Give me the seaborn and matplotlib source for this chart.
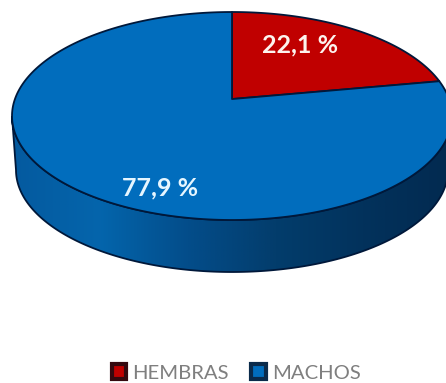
import numpy as np
import matplotlib
matplotlib.use("Agg")
import matplotlib.pyplot as plt
from matplotlib.colors import ListedColormap
from matplotlib.patches import Patch, Polygon
import seaborn as sns

# Sex ratio of the sample, in percent
categories = ["HEMBRAS", "MACHOS"]
shares = [22.1, 77.9]
slice_colors = ["#c00000", "#016dbd"]
legend_edges = ["#35090f", "#0a2a4a"]
label_colors = ["#fdf3ee", "#e6f6ff"]
wall_colors = ["#045a9f", "#0465ac", "#034d8a", "#033d6c", "#02325c", "#022a50"]

sns.set_theme(style="white")
plt.rcParams["font.family"] = ["Lato", "DejaVu Sans"]

W, H = 446, 383
fig = plt.figure(figsize=(W / 100, H / 100), dpi=100, facecolor="white")
ax = fig.add_axes([0, 0, 1, 1])

# Tilted disc: top face and lower rim, in canvas units
CX, CY, A, B = 232, 116, 220, 104
BOTTOM_CY, BOTTOM_A, BOTTOM_B = 170, 216, 102
TILT = 0.163  # moves the apex towards the far edge, as in a perspective view
OUTLINE = "#00183a"


def rim(turn_start, turn_end, n=240):
    """Project an arc of the unit circle, given as fractions of a turn from 12 o'clock."""
    t = 2 * np.pi * np.linspace(turn_start, turn_end, n)
    x, y = np.sin(t), np.cos(t)
    d = 1 + TILT * y
    return np.column_stack((
        CX + A * x * np.sqrt(1 - TILT ** 2) / d,
        CY - B * (y + TILT) / d,
    ))


apex = np.array([[CX, CY - B * TILT]])

# Side wall, filled with a horizontal shading clipped to its outline
t = np.linspace(np.pi, 0, 240)
upper = np.column_stack((CX + A * np.cos(t), CY + B * np.sin(t)))
lower = np.column_stack((CX + BOTTOM_A * np.cos(t[::-1]), BOTTOM_CY + BOTTOM_B * np.sin(t[::-1])))
wall = Polygon(np.vstack((upper, lower)), closed=True, facecolor="none",
               edgecolor=OUTLINE, linewidth=1.3, zorder=2)
ax.add_patch(wall)
shade = ListedColormap(sns.blend_palette(wall_colors, 256))
gradient = ax.imshow(np.linspace(0, 1, 256)[None, :], cmap=shade, aspect="auto",
                     extent=(12, 452, 300, 100), zorder=1)
gradient.set_clip_path(wall)

# Top face, one slice per category
start = 0.0
for share, color in zip(shares, slice_colors):
    end = start + share / sum(shares)
    pts = np.vstack((apex, rim(start, end)))
    ax.add_patch(Polygon(pts, closed=True, facecolor=color, edgecolor=OUTLINE,
                         linewidth=1.3, joinstyle="round", zorder=3))
    start = end

# Value labels with a decimal comma
label_anchors = [(300, 45), (160, 188)]
for share, (lx, ly), color in zip(shares, label_anchors, label_colors):
    ax.text(lx, ly, f"{share:.1f} %".replace(".", ","), color=color, fontsize=18,
            fontweight="bold", ha="center", va="center", zorder=4)

handles = [Patch(facecolor=c, edgecolor=e, linewidth=3, label=n)
           for c, e, n in zip(slice_colors, legend_edges, categories)]
ax.legend(handles=handles, ncol=2, loc="center", bbox_to_anchor=(236 / W, 1 - 373 / H),
          frameon=False, fontsize=14.6, labelcolor="#7f7f7f", handlelength=0.72,
          handleheight=0.72, handletextpad=0.3, columnspacing=1.1, borderpad=0)

ax.set_xlim(0, W)
ax.set_ylim(H, 0)
ax.axis("off")
fig.savefig("out.png", dpi=100, facecolor="white")
